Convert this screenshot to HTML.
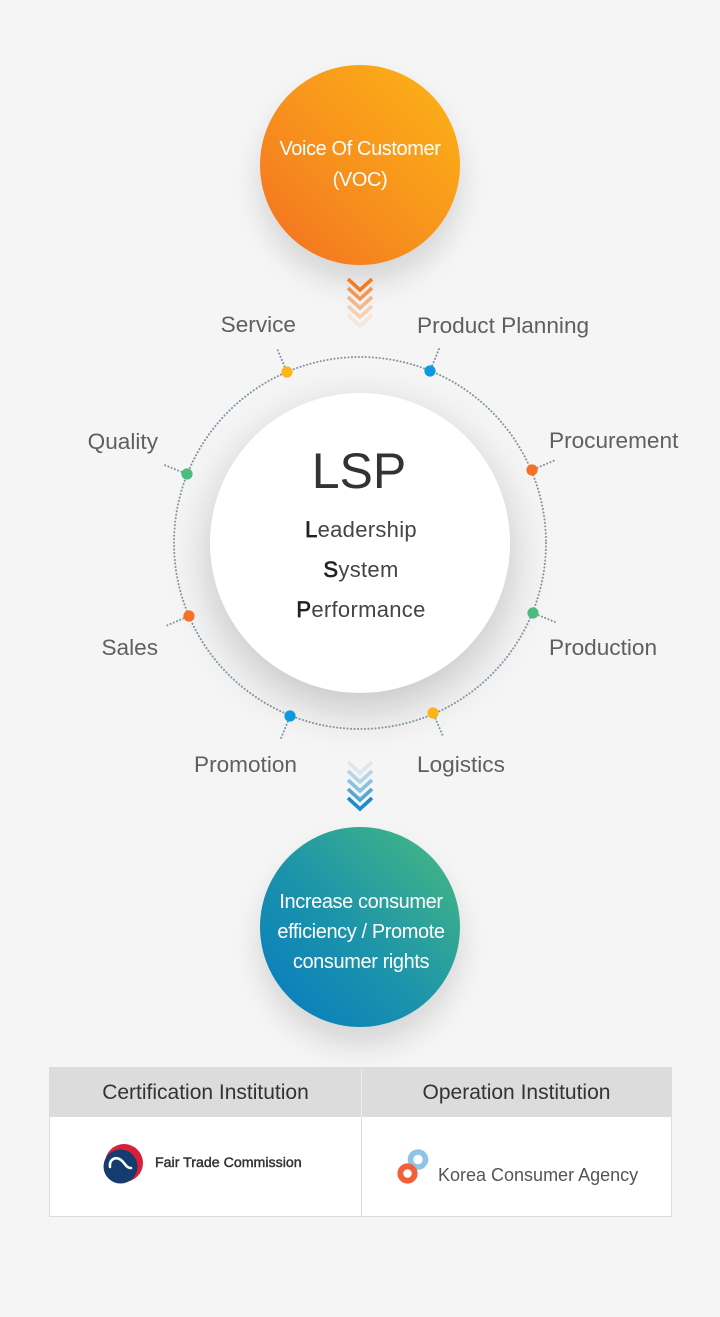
<!DOCTYPE html>
<html>
<head>
<meta charset="utf-8">
<style>
  html,body{margin:0;padding:0;}
  body{width:720px;height:1317px;background:#f5f5f5;position:relative;overflow:hidden;font-family:"Liberation Sans",sans-serif;}
  .circ{position:absolute;border-radius:50%;}
  #voc{left:260px;top:65px;width:200px;height:200px;
    background:linear-gradient(45deg,#f36f21 0%,#f7911d 45%,#fdb515 100%);
    box-shadow:0 18px 30px rgba(0,0,0,0.13);}
  #lsp{left:210px;top:393px;width:300px;height:300px;background:#fff;
    box-shadow:0 16px 46px rgba(0,0,0,0.2);}
  #res{left:260px;top:827px;width:200px;height:200px;
    background:linear-gradient(45deg,#0679c3 0%,#1b93ab 45%,#49bb7d 100%);
    box-shadow:0 18px 30px rgba(0,0,0,0.13);}
  svg#main{position:absolute;left:0;top:0;}
  #tbl{position:absolute;left:49px;top:1067px;width:621px;height:148px;border:1px solid #dcdcdc;background:#fff;}
  #tbl .hd{position:absolute;top:0;height:49px;background:#dcdcdc;color:#333;font-size:21px;line-height:50px;text-align:center;}
  #tbl .h1{left:0;width:311px;}
  #tbl .h2{left:312px;width:309px;}
  #tbl .vdiv{position:absolute;left:311px;top:0;width:1px;height:148px;background:#dcdcdc;}
  #tbl .vdiv2{position:absolute;left:311px;top:0;width:1px;height:49px;background:#ececec;}
</style>
</head>
<body>
<div class="circ" id="voc"></div>
<div class="circ" id="lsp"></div>
<div class="circ" id="res"></div>

<div id="tbl">
  <div class="hd h1">Certification Institution</div>
  <div class="hd h2">Operation Institution</div>
  <div class="vdiv"></div>
  <div class="vdiv2"></div>
</div>

<svg id="main" width="720" height="1317" viewBox="0 0 720 1317" xmlns="http://www.w3.org/2000/svg">
  <!-- dotted ring -->
  <g fill="none" stroke="#7f95a1" stroke-width="2" stroke-linecap="round" stroke-dasharray="0.1 3.4">
    <circle cx="360" cy="543" r="186"/>
    <line x1="432.3" y1="365.4" x2="439" y2="349"/>
    <line x1="284.6" y1="366.5" x2="277.6" y2="350"/>
    <line x1="181.4" y1="471.8" x2="164.7" y2="465.1"/>
    <line x1="537.5" y1="467.7" x2="554.1" y2="460.6"/>
    <line x1="538.6" y1="615.3" x2="555.2" y2="622"/>
    <line x1="435.4" y1="718.5" x2="442.5" y2="735"/>
    <line x1="287.8" y1="721.6" x2="281" y2="738.2"/>
    <line x1="183.5" y1="618.4" x2="167" y2="625.4"/>
  </g>
  <!-- dots -->
  <circle cx="430" cy="371" r="5.6" fill="#0b9ae0"/>
  <circle cx="287" cy="372" r="5.6" fill="#fbb516"/>
  <circle cx="187" cy="474" r="5.6" fill="#4dbb80"/>
  <circle cx="532" cy="470" r="5.6" fill="#f57224"/>
  <circle cx="533" cy="613" r="5.6" fill="#4dbb80"/>
  <circle cx="433" cy="713" r="5.6" fill="#fbb516"/>
  <circle cx="290" cy="716" r="5.6" fill="#0b9ae0"/>
  <circle cx="189" cy="616" r="5.6" fill="#f57224"/>

  <!-- orange chevrons -->
  <g fill="none" stroke="#f47b20" stroke-width="3.6" stroke-linejoin="miter">
    <polyline points="348,279 360,290 372,279" opacity="1"/>
    <polyline points="348,288 360,299 372,288" opacity="0.75"/>
    <polyline points="348,297 360,308 372,297" opacity="0.5"/>
    <polyline points="348,306 360,317 372,306" opacity="0.3"/>
    <polyline points="348,315 360,326 372,315" opacity="0.12"/>
  </g>
  <!-- blue chevrons -->
  <g fill="none" stroke="#1f8dc9" stroke-width="3.6" stroke-linejoin="miter">
    <polyline points="348,762 360,773 372,762" opacity="0.12"/>
    <polyline points="348,771 360,782 372,771" opacity="0.3"/>
    <polyline points="348,780 360,791 372,780" opacity="0.5"/>
    <polyline points="348,789 360,800 372,789" opacity="0.75"/>
    <polyline points="348,798 360,809 372,798" opacity="1"/>
  </g>

  <!-- labels -->
  <g font-family="Liberation Sans, sans-serif" font-size="22.6" fill="#5f5f5f">
    <text x="296" y="332" text-anchor="end">Service</text>
    <text x="417" y="333">Product Planning</text>
    <text x="158" y="449" text-anchor="end">Quality</text>
    <text x="549" y="448">Procurement</text>
    <text x="158" y="655" text-anchor="end">Sales</text>
    <text x="549" y="655">Production</text>
    <text x="297" y="772" text-anchor="end">Promotion</text>
    <text x="417" y="772">Logistics</text>
  </g>

  <!-- VOC text -->
  <g font-family="Liberation Sans, sans-serif" font-size="20" fill="#ffffff" text-anchor="middle" letter-spacing="-0.4">
    <text x="360" y="155">Voice Of Customer</text>
    <text x="360" y="186">(VOC)</text>
  </g>

  <!-- LSP text -->
  <text x="359" y="488" text-anchor="middle" font-family="Liberation Sans, sans-serif" font-size="50" fill="#333">LSP</text>
  <g font-family="Liberation Sans, sans-serif" font-size="22" fill="#444" text-anchor="middle" letter-spacing="0.3">
    <text x="361" y="537"><tspan fill="#222" stroke="#222" stroke-width="0.7">L</tspan>eadership</text>
    <text x="361" y="577"><tspan fill="#222" stroke="#222" stroke-width="0.7">S</tspan>ystem</text>
    <text x="361" y="617"><tspan fill="#222" stroke="#222" stroke-width="0.7">P</tspan>erformance</text>
  </g>

  <!-- result text -->
  <g font-family="Liberation Sans, sans-serif" font-size="20" fill="#ffffff" text-anchor="middle" letter-spacing="-0.4">
    <text x="361" y="908">Increase consumer</text>
    <text x="361" y="938">efficiency / Promote</text>
    <text x="361" y="968">consumer rights</text>
  </g>

  <!-- Fair Trade Commission logo -->
  <circle cx="124" cy="1163" r="19" fill="#d8203a"/>
  <circle cx="120.5" cy="1166.5" r="17" fill="#153c6e"/>
  <path d="M110,1167 C109,1159 116,1156 121,1160 C125,1163 126,1168 131,1168" fill="none" stroke="#ffffff" stroke-width="2.6" stroke-linecap="round"/>
  <text x="155" y="1167" font-family="Liberation Sans, sans-serif" font-size="14.2" fill="#333" stroke="#333" stroke-width="0.45">Fair Trade Commission</text>

  <!-- Korea Consumer Agency logo -->
  <circle cx="418" cy="1159.5" r="7.5" fill="none" stroke="#8ec4e6" stroke-width="5.6"/>
  <circle cx="407.5" cy="1173.5" r="7.2" fill="none" stroke="#f2603a" stroke-width="5.8"/>
  <text x="438" y="1181" font-family="Liberation Sans, sans-serif" font-size="18" fill="#555">Korea Consumer Agency</text>
</svg>
</body>
</html>
